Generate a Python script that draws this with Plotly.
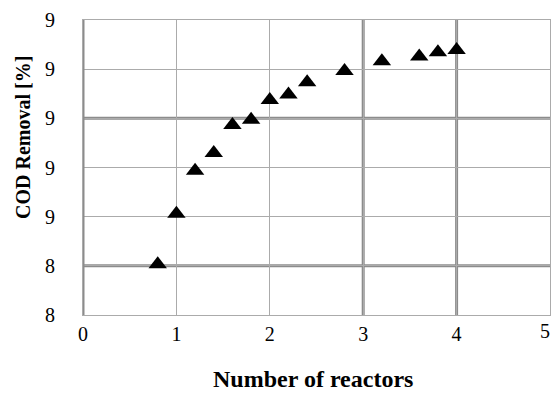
import plotly.graph_objects as go

# Number of reactors vs. COD removal
reactors = [0.8, 1.0, 1.2, 1.4, 1.6, 1.8, 2.0, 2.2, 2.4, 2.8, 3.2, 3.6, 3.8, 4.0]
cod_removal = [8.406, 8.612, 8.787, 8.859, 8.973, 8.994, 9.075, 9.097,
               9.147, 9.193, 9.232, 9.252, 9.269, 9.278]

x_ticks = [0, 1, 2, 3, 4, 5]
y_ticks = [8.2, 8.4, 8.6, 8.8, 9.0, 9.2, 9.4]

FONT = "Liberation Serif, Times New Roman, serif"
THIN = "#ababab"
THICK = "#8c8c8c"

fig = go.Figure()
fig.add_trace(go.Scatter(
    x=reactors, y=cod_removal, mode="markers",
    marker=dict(symbol="triangle-up", size=16, color="black"),
    showlegend=False,
))

# heavier gridlines
shapes = [dict(type="line", xref="x", yref="paper", x0=0, x1=0, y0=0, y1=1,
               line=dict(color=THICK, width=3), layer="above")]
for xv in (3, 4):
    shapes.append(dict(type="line", xref="x", yref="paper", x0=xv, x1=xv, y0=0, y1=1,
                       line=dict(color=THICK, width=3), layer="below"))
for yv in (8.4, 9.0):
    shapes.append(dict(type="line", xref="paper", yref="y", x0=0, x1=1, y0=yv, y1=yv,
                       line=dict(color=THICK, width=3), layer="below"))

# the last x label sits at the right page edge, so it is right-aligned there
x_text = [str(v) for v in x_ticks[:-1]] + [""]
edge_label = dict(text=str(x_ticks[-1]), xref="x", yref="paper", x=x_ticks[-1],
                  y=-(331 - 315) / 295, xanchor="right", yanchor="middle",
                  xshift=2, showarrow=False, font=dict(family=FONT, size=20))

fig.update_layout(
    width=552, height=394,
    margin=dict(l=83, r=2, t=20, b=79, autoexpand=False),
    paper_bgcolor="white", plot_bgcolor="white",
    font=dict(family=FONT, size=20, color="black"),
    shapes=shapes,
    xaxis=dict(
        range=[0, 5], tickvals=x_ticks, ticktext=x_text,
        showgrid=True, gridcolor=THIN, gridwidth=1,
        showline=True, linecolor=THIN, linewidth=1, mirror=True,
        zeroline=False, ticks="", ticklabelstandoff=1,
        ticklabeloverflow="allow", automargin=False,
        tickfont=dict(family=FONT, size=20),
    ),
    yaxis=dict(
        range=[8.2, 9.4], tickvals=y_ticks, tickformat=".0f",
        showgrid=True, gridcolor=THIN, gridwidth=1,
        showline=True, linecolor=THIN, linewidth=1, mirror=True,
        zeroline=False, ticks="", ticklabelstandoff=23,
        ticklabeloverflow="allow", automargin=False,
        tickfont=dict(family=FONT, size=20),
    ),
    annotations=[
        dict(text="<b>Number of reactors</b>", xref="paper", yref="paper",
             x=(313 - 83) / 467, y=-(379 - 315) / 295, xanchor="center", yanchor="middle",
             showarrow=False, font=dict(family=FONT, size=24)),
        dict(text="<b>COD Removal [%]</b>", xref="paper", yref="paper",
             x=-(83 - 23) / 467, y=(315 - 138) / 295, xanchor="center", yanchor="middle",
             textangle=-90, showarrow=False, font=dict(family=FONT, size=20)),
        edge_label,
    ],
)

fig.write_html("out.html")
